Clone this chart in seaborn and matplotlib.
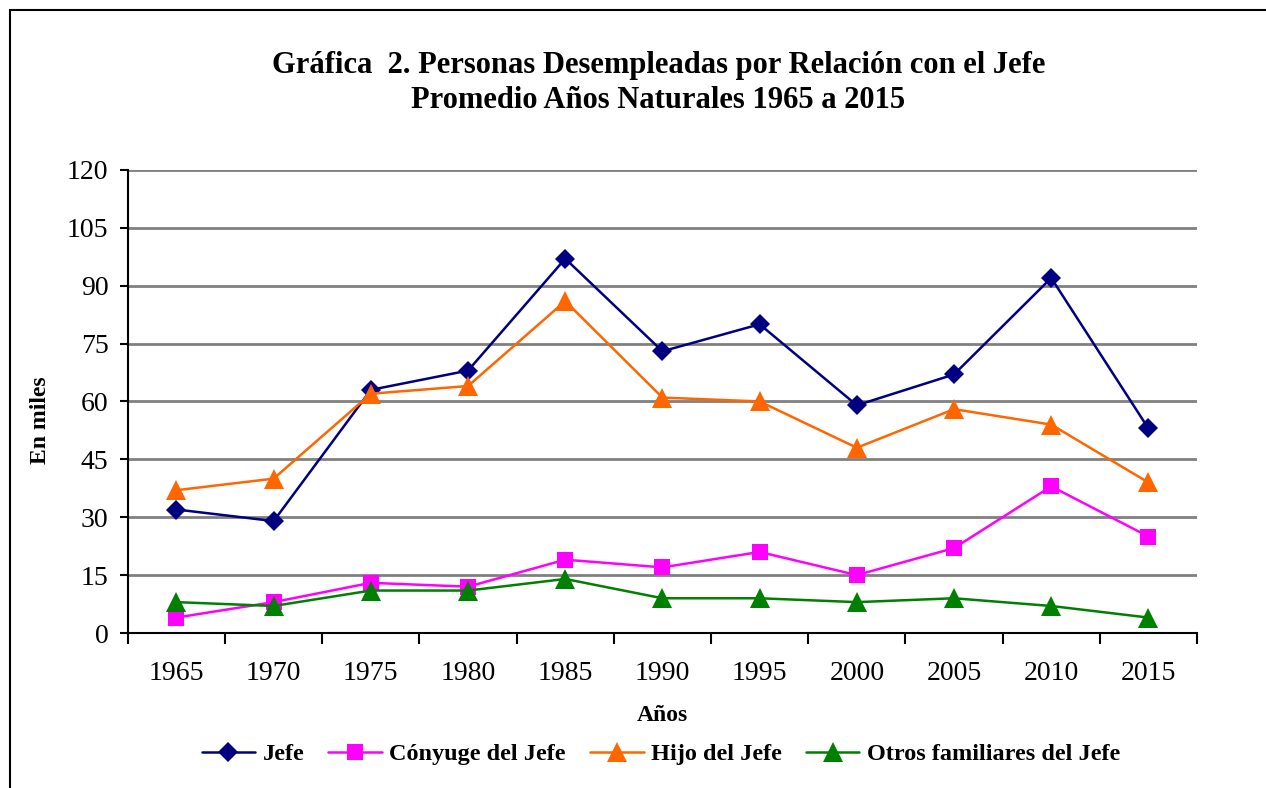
import numpy as np
import pandas as pd
import seaborn as sns
import matplotlib.pyplot as plt
from matplotlib.patches import Rectangle

# values (miles de personas)
years = [1965, 1970, 1975, 1980, 1985, 1990, 1995, 2000, 2005, 2010, 2015]
jefe = [32, 29, 63, 68, 97, 73, 80, 59, 67, 92, 53]
conyuge = [4, 8, 13, 12, 19, 17, 21, 15, 22, 38, 25]
hijo = [37, 40, 62, 64, 86, 61, 60, 48, 58, 54, 39]
otros = [8, 7, 11, 11, 14, 9, 9, 8, 9, 7, 4]

series_names = ["Jefe", "Cónyuge del Jefe", "Hijo del Jefe", "Otros familiares del Jefe"]
colors = ["#000080", "#FF00FF", "#FF6600", "#008000"]
markers = ["D", "s", "^", "^"]
msizes = [10.5, 12, 15, 15]

df = pd.DataFrame({
    "year": years * 4,
    "value": jefe + conyuge + hijo + otros,
    "serie": np.repeat(series_names, len(years)),
})

sns.set_style("white")
plt.rcParams["font.family"] = ["Liberation Serif", "DejaVu Serif"]
plt.rcParams["text.color"] = "black"
plt.rcParams["axes.labelcolor"] = "black"
plt.rcParams["xtick.color"] = "black"
plt.rcParams["ytick.color"] = "black"

fig = plt.figure(figsize=(12.66, 7.88), dpi=100)
ax = fig.add_axes([0.101, 0.1967, 0.8445, 0.5877])

sns.lineplot(
    data=df, x="year", y="value", hue="serie", style="serie",
    hue_order=series_names, style_order=series_names,
    palette=colors, markers=markers, dashes=False,
    markersize=12, linewidth=1.8, markeredgewidth=0,
    ax=ax, legend=True,
)
for line, ms in zip(ax.lines, msizes):
    line.set_markersize(ms)

ax.set_ylim(0, 120)
ax.set_yticks(range(0, 121, 15))
ax.set_xlim(1962.5, 2017.5)
ax.set_xticks(years)
ax.set_xticks(np.arange(1962.5, 2018, 5), minor=True)
ax.tick_params(axis="x", which="major", length=0, labelsize=20, pad=20)
ax.tick_params(axis="x", which="minor", length=8, width=1.5, direction="out", bottom=True)
ax.tick_params(axis="y", length=6, width=1.5, direction="out", left=True, labelsize=20, pad=8)
ax.yaxis.grid(True, color="#808080", linewidth=2)
ax.set_axisbelow(True)
for side in ["top", "right"]:
    ax.spines[side].set_visible(False)
for side in ["left", "bottom"]:
    ax.spines[side].set_color("black")
    ax.spines[side].set_linewidth(1.5)

ax.set_xlabel("Años", fontsize=17, fontweight="bold", labelpad=14)
ax.set_ylabel("En miles", fontsize=17, fontweight="bold")
ax.yaxis.set_label_coords(-0.072, 0.46)

fig.text(0.52, 0.917, "Gráfica  2. Personas Desempleadas por Relación con el Jefe",
         ha="center", va="center", fontsize=22, fontweight="bold")
fig.text(0.52, 0.872, "Promedio Años Naturales 1965 a 2015",
         ha="center", va="center", fontsize=22, fontweight="bold")

handles, labels = ax.get_legend_handles_labels()
for h, ms in zip(handles, msizes):
    h.set_markersize(ms)
ax.get_legend().remove()
fig.legend(handles, labels, loc="center", bbox_to_anchor=(0.522, 0.043), ncol=4,
           frameon=False, prop={"size": 17.5, "weight": "bold"},
           handlelength=2.2, columnspacing=1.0, handletextpad=0.3)

# outer chart border
fig.patches.append(Rectangle((10 / 1266, -0.05), 1.1, 1 - 10 / 788 + 0.05,
                             transform=fig.transFigure, fill=False,
                             edgecolor="black", linewidth=1.5))

fig.savefig("out.png", dpi=100)
